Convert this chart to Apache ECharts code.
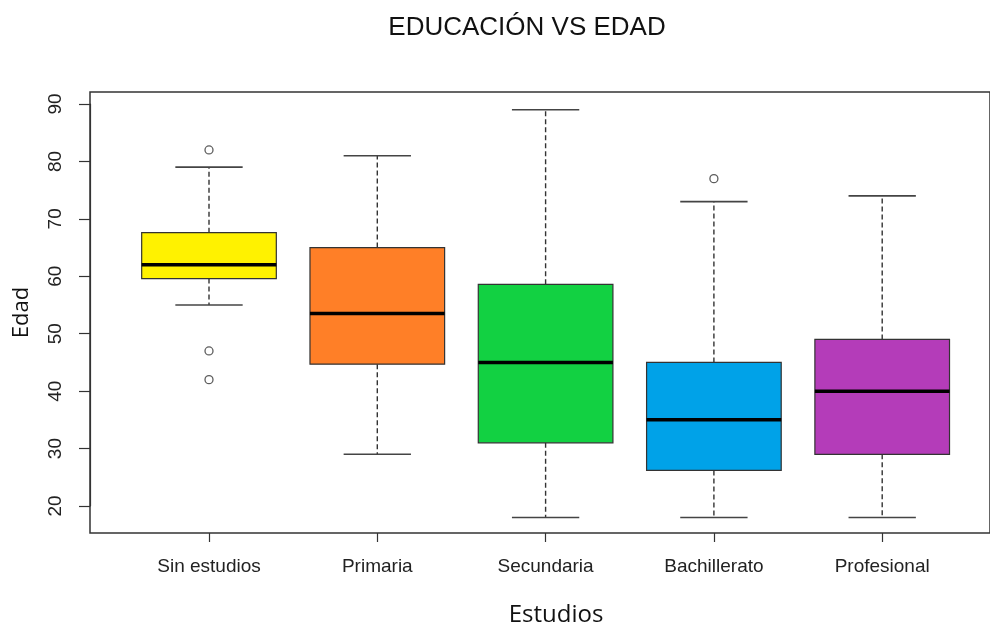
<!DOCTYPE html>
<html>
<head>
<meta charset="utf-8">
<script src="https://cdn.jsdelivr.net/npm/echarts@6/dist/echarts.min.js"></script>
<style>html,body{margin:0;padding:0;background:#fff;}#c{width:990px;height:635px;}</style>
</head>
<body>
<div id="c"></div>
<script>
const categories = ['Sin estudios', 'Primaria', 'Secundaria', 'Bachillerato', 'Profesional'];
const lowWhisker = [55, 29, 18, 18, 18];
const q1 = [59.6, 44.7, 31, 26.2, 29];
const median = [62, 53.5, 45, 35, 40];
const q3 = [67.6, 65, 58.6, 45, 49];
const highWhisker = [79, 81, 89, 73, 74];
const outlierCats = ['Sin estudios', 'Sin estudios', 'Sin estudios', 'Bachillerato'];
const outlierVals = [82, 47, 42, 77];
const boxColors = ['#FFF200', '#FF7F27', '#12D142', '#00A2E8', '#B43CB9'];
const yMin = 20, yMax = 90, yStep = 10;

const boxData = categories.map((c, i) => [i, lowWhisker[i], q1[i], median[i], q3[i], highWhisker[i]]);
const outlierData = outlierCats.map((c, i) => [c, outlierVals[i]]);

const chart = echarts.init(document.getElementById('c'), null, {renderer: 'canvas'});
const ink = '#333';
chart.setOption({
  backgroundColor: '#fff',
  animation: false,
  title: {
    text: 'EDUCACIÓN VS EDAD', left: 522, top: 10, textAlign: 'center',
    textStyle: {fontFamily: 'Liberation Sans, Arial, sans-serif', fontSize: 26, fontWeight: 'normal', color: '#111'}
  },
  grid: [
    {left: 124.85, top: 104, width: 841.5, height: 402, show: false},
    {left: 90, top: 92, width: 910, height: 441, show: true, borderColor: ink, borderWidth: 1.5, backgroundColor: 'transparent'}
  ],
  xAxis: [
    {
      gridIndex: 0, type: 'category', data: categories, boundaryGap: true, offset: 27,
      axisLine: {show: false},
      axisTick: {show: true, alignWithLabel: true, length: 9, lineStyle: {color: ink, width: 1.2}},
      axisLabel: {fontFamily: 'Liberation Sans, Arial, sans-serif', fontSize: 19, color: '#222', margin: 24},
      name: 'Estudios', nameLocation: 'middle', nameGap: 70,
      nameTextStyle: {fontFamily: 'Open Sans, sans-serif', fontSize: 24, color: '#111', padding: [0, 0, 0, 21]}
    },
    {gridIndex: 1, type: 'value', min: 0, max: 1, show: true,
      axisLine: {show: false}, axisTick: {show: false}, axisLabel: {show: false}, splitLine: {show: false}}
  ],
  yAxis: [
    {
      gridIndex: 0, type: 'value', min: yMin, max: yMax, interval: yStep, offset: 34.85,
      axisLine: {show: true, lineStyle: {color: ink, width: 1.2}},
      axisTick: {show: true, length: 11, lineStyle: {color: ink, width: 1.2}},
      axisLabel: {rotate: 90, fontFamily: 'Liberation Sans, Arial, sans-serif', fontSize: 19, color: '#222', margin: 25},
      splitLine: {show: false}
    },
    {
      gridIndex: 1, type: 'value', min: 0, max: 1, show: true,
      axisLine: {show: false}, axisTick: {show: false}, axisLabel: {show: false}, splitLine: {show: false},
      name: 'Edad', nameLocation: 'middle', nameGap: 57, nameRotate: 90,
      nameTextStyle: {fontFamily: 'Open Sans, sans-serif', fontSize: 22, color: '#111'}
    }
  ],
  series: [
    {
      type: 'custom', xAxisIndex: 0, yAxisIndex: 0, clip: false,
      encode: {x: 0, y: [1, 2, 3, 4, 5]},
      data: boxData,
      renderItem: function (params, api) {
        const idx = api.value(0);
        const pLow = api.coord([idx, api.value(1)]);
        const pQ1 = api.coord([idx, api.value(2)]);
        const pMed = api.coord([idx, api.value(3)]);
        const pQ3 = api.coord([idx, api.value(4)]);
        const pHigh = api.coord([idx, api.value(5)]);
        const band = api.size([1, 0])[0];
        const bw = band * 0.8;
        const cw = bw / 2;
        const cx = pMed[0];
        const dash = {stroke: '#333', lineWidth: 1.4, lineDash: [5, 3]};
        const solid = {stroke: '#444', lineWidth: 1.6};
        return {
          type: 'group',
          children: [
            {type: 'line', shape: {x1: cx, y1: pQ3[1], x2: cx, y2: pHigh[1]}, style: dash},
            {type: 'line', shape: {x1: cx, y1: pQ1[1], x2: cx, y2: pLow[1]}, style: dash},
            {type: 'line', shape: {x1: cx - cw / 2, y1: pHigh[1], x2: cx + cw / 2, y2: pHigh[1]}, style: solid},
            {type: 'line', shape: {x1: cx - cw / 2, y1: pLow[1], x2: cx + cw / 2, y2: pLow[1]}, style: solid},
            {type: 'rect', shape: {x: cx - bw / 2, y: pQ3[1], width: bw, height: pQ1[1] - pQ3[1]},
              style: {fill: boxColors[idx], stroke: '#333', lineWidth: 1.2}},
            {type: 'line', shape: {x1: cx - bw / 2, y1: pMed[1], x2: cx + bw / 2, y2: pMed[1]},
              style: {stroke: '#000', lineWidth: 3.5}}
          ]
        };
      }
    },
    {
      type: 'scatter', xAxisIndex: 0, yAxisIndex: 0, data: outlierData,
      symbol: 'circle', symbolSize: 8,
      itemStyle: {color: '#fff', borderColor: '#333', borderWidth: 1.3}
    }
  ]
});
</script>
</body>
</html>
